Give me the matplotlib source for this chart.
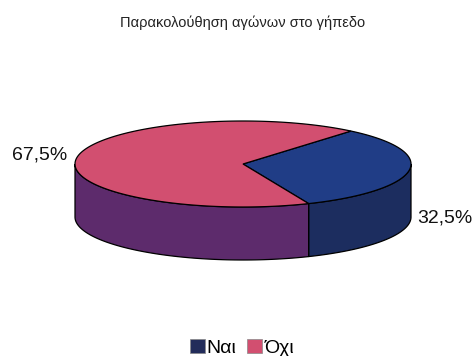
import numpy as np
import matplotlib
matplotlib.use("Agg")
import matplotlib.pyplot as plt
from matplotlib.patches import Polygon, Patch

plt.rcParams['font.family'] = ['Liberation Sans', 'DejaVu Sans']

title = "Παρακολούθηση αγώνων στο γήπεδο"
categories = ["Ναι", "Όχι"]
values = [32.5, 67.5]
value_labels = ["32,5%", "67,5%"]

top_colors = ["#203d86", "#d24f70"]
side_colors = ["#1c2d5f", "#5d2b6c"]
legend_colors = ["#222c5a", "#d24f70"]

W, H = 476, 356
fig = plt.figure(figsize=(W / 100, H / 100), dpi=100)
ax = fig.add_axes([0, 0, 1, 1])
ax.set_xlim(0, W)
ax.set_ylim(H, 0)
ax.axis("off")

# ellipse geometry of the 3D pie (pixels)
cx, cy, a, b, depth = 243, 164, 168, 43, 53
start = -67.0


def ept(t, dz=0.0):
    r = np.radians(t)
    return cx + a * np.cos(r), cy - b * np.sin(r) + dz


fracs = np.array(values) / np.sum(values)
bounds = start + 360 * np.concatenate([[0], np.cumsum(fracs)])

# side walls (front half only: angles 180..360)
for i in range(len(values)):
    t0, t1 = bounds[i], bounds[i + 1]
    for shift in (-360, 0, 360):
        lo = max(t0 + shift, 180)
        hi = min(t1 + shift, 360)
        if hi > lo:
            ts = np.linspace(lo, hi, 80)
            top = [ept(t) for t in ts]
            bot = [ept(t, depth) for t in ts[::-1]]
            ax.add_patch(Polygon(top + bot, closed=True, facecolor=side_colors[i],
                                 edgecolor="black", lw=0.9, zorder=2))

# top faces
for i in range(len(values)):
    ts = np.linspace(bounds[i], bounds[i + 1], 200)
    pts = [(cx, cy)] + [ept(t) for t in ts]
    ax.add_patch(Polygon(pts, closed=True, facecolor=top_colors[i],
                         edgecolor="black", lw=0.9, zorder=3))

# value labels
ax.text(445, 218, value_labels[0], fontsize=14, ha="center", va="center", color="#111111")
ax.text(40, 155, value_labels[1], fontsize=14, ha="center", va="center", color="#111111")

ax.text(243, 23, title, fontsize=10.5, ha="center", va="center", color="#222222")

handles = [Patch(facecolor=c, edgecolor="#888888", lw=0.5) for c in legend_colors]
fig.legend(handles, categories, loc="center", bbox_to_anchor=(242 / W, 1 - 348 / H),
           ncol=2, frameon=False, fontsize=14, handlelength=0.75, handleheight=0.75,
           handletextpad=0.12, columnspacing=0.55, borderpad=0)

fig.savefig("out.png", dpi=100, facecolor="white")
